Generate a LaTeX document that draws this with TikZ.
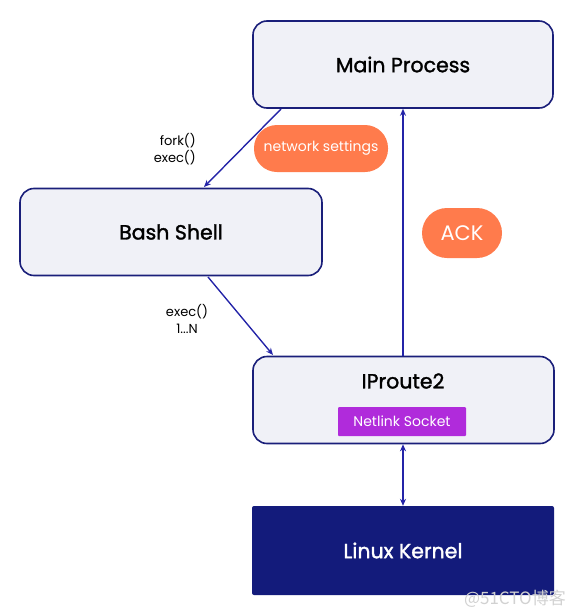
\documentclass[tikz,border=0pt]{standalone}
\usepackage{fontspec}
\setmainfont{Poppins}
\newfontfamily\medfont[FakeBold=1.5]{Poppins}
\newfontfamily\cjk{Noto Sans CJK SC}
\usetikzlibrary{arrows.meta}
\definecolor{navy}{HTML}{1A1F7A}
\definecolor{boxfill}{HTML}{F0F1F7}
\definecolor{arrowblue}{HTML}{2424A8}
\definecolor{orangepill}{HTML}{FF7B4C}
\definecolor{purplebox}{HTML}{B02BDB}
\definecolor{kernelfill}{HTML}{131B7B}
\tikzset{
  titlefont/.style={font=\medfont\fontsize{20.5}{24}\selectfont},
  procbox/.style={draw=navy, line width=1.6pt, fill=boxfill, rounded corners=14pt, minimum width=300pt, minimum height=87pt, titlefont, text=black},
  pill/.style={fill=orangepill, rounded corners=23pt, text=white, inner sep=0pt},
  conn/.style={draw=arrowblue, line width=1.4pt, -{Stealth[length=7pt,width=6pt]}},
  lbl/.style={font=\fontsize{13}{17}\selectfont, align=right, inner sep=0pt}
}
\begin{document}
\begin{tikzpicture}[x=1pt,y=-1pt]
\useasboundingbox (0,0) rectangle (575,616);
\node[procbox] (main) at (403,64.5) {Main Process};
\node[procbox, minimum width=302pt] (bash) at (171,232) {Bash Shell};
\node[procbox, minimum width=301pt] (ip) at (403.5,400) {};
\node[titlefont] (iptxt) at (403,381) {IProute2};
\node[fill=purplebox, text=white, minimum width=128pt, minimum height=29pt, inner sep=0pt, rounded corners=1pt, font=\fontsize{14}{16}\selectfont] (nl) at (402,421.5) {Netlink Socket};
\node[fill=kernelfill, minimum width=302pt, minimum height=89pt, rounded corners=2pt, text=white, titlefont] (kern) at (403,550.5) {Linux Kernel};
\node[pill, minimum width=134pt, minimum height=47pt, font=\fontsize{14}{16}\selectfont] (net) at (321,148.5) {network settings};
\node[pill, minimum width=80pt, minimum height=50pt, rounded corners=25pt, font=\fontsize{21}{24}\selectfont] (ack) at (462,233) {ACK};
\coordinate (m1) at (281,109);
\coordinate (b1) at (204,187);
\draw[conn] (m1) -- (b1);
\node[lbl, anchor=east] (fe) at (196,149.5) {fork()\\exec()};
\coordinate (b2) at (208,277);
\coordinate (i1) at (273,355);
\draw[conn] (b2) -- (i1);
\node[lbl, align=center] (ex) at (187,319) {exec()\\1...N};
\draw[conn] (ip.north -| 403,0) -- (main.south -| 403,0);
\draw[conn, {Stealth[length=7pt,width=6pt]}-{Stealth[length=7pt,width=6pt]}] (ip.south -| 403,0) -- (kern.north -| 403,0);
\node[text=black!18, font=\cjk\fontsize{17}{19}\selectfont, anchor=east, inner sep=0pt] (wm) at (566,599) {@51CTO博客};
\end{tikzpicture}
\end{document}
